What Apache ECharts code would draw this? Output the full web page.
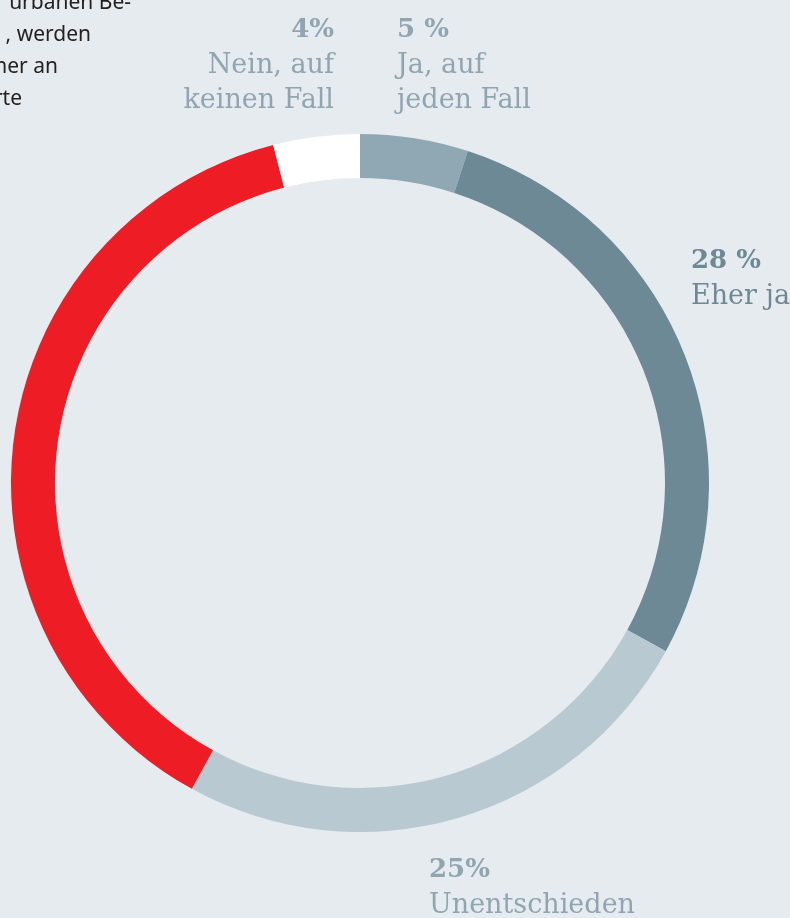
<!DOCTYPE html>
<html>
<head>
<meta charset="utf-8">
<script src="https://cdn.jsdelivr.net/npm/echarts@6/dist/echarts.min.js"></script>
<style>
  html, body { margin: 0; padding: 0; background: #e6ebef; }
  #chart { width: 790px; height: 918px; }
</style>
</head>
<body>
<div id="chart"></div>
<script>
// Antworten, im Uhrzeigersinn ab 12 Uhr
const categories = ['Ja, auf jeden Fall', 'Eher ja', 'Unentschieden', 'Eher nein', 'Nein, auf keinen Fall'];
const values = [5, 28, 25, 38, 4];
const pctLabels = ['5 %', '28 %', '25%', '38%', '4%'];
const textLabels = ['Ja, auf\njeden Fall', 'Eher ja', 'Unentschieden', '', 'Nein, auf\nkeinen Fall'];
const introLines = ['urbanen Be-', ', werden', 'ner an', 'rte'];

const colors = ['#90a8b3', '#6d8996', '#b8c9d1', '#ee1c25', '#ffffff'];
const labelColors = ['#8fa6b2', '#6d8996', '#8fa6b2', '#8fa6b2', '#8fa6b2'];
// Label-Ankerpunkte (x, y, Ausrichtung)
const labelPos = [
    { x: 397, y: 13, align: 'left' },
    { x: 691, y: 244, align: 'left' },
    { x: 429, y: 853, align: 'left' },
    null,
    { x: 334, y: 13, align: 'right' }
];
const introRight = [131, 91, 58, 22];

const chart = echarts.init(document.getElementById('chart'));

chart.setOption({
    backgroundColor: '#e6ebef',
    animation: false,
    graphic: introLines.map((line, i) => ({
        type: 'text',
        x: introRight[i],
        y: 3 + i * 32,
        style: {
            text: line,
            align: 'right',
            verticalAlign: 'middle',
            font: '21px "Noto Sans", sans-serif',
            fill: '#222222'
        }
    })),
    series: [{
        type: 'pie',
        center: [360, 483],
        radius: [305, 349],
        startAngle: 90,
        clockwise: true,
        silent: true,
        itemStyle: { borderWidth: 0 },
        labelLine: { show: false },
        data: categories.map((name, i) => {
            const al = labelPos[i] ? labelPos[i].align : 'left';
            return {
                name: name,
                value: values[i],
                itemStyle: { color: colors[i] },
                label: {
                    show: textLabels[i] !== '',
                    position: 'outside',
                    overflow: 'none',
                    formatter: '{p|' + pctLabels[i] + '}\n{t|' + textLabels[i].split('\n').join('}\n{t|') + '}',
                    align: al,
                    rich: {
                        p: { fontFamily: 'DejaVu Serif', fontWeight: 'bold', fontSize: 26, lineHeight: 35, color: labelColors[i], align: al },
                        t: { fontFamily: 'DejaVu Serif', fontSize: 27, lineHeight: 35, color: labelColors[i], align: al }
                    }
                }
            };
        }),
        labelLayout: (params) => {
            const p = labelPos[params.dataIndex];
            if (!p) return {};
            return { x: p.x, y: p.y, align: p.align, verticalAlign: 'top', hideOverlap: false };
        }
    }]
});
</script>
</body>
</html>
